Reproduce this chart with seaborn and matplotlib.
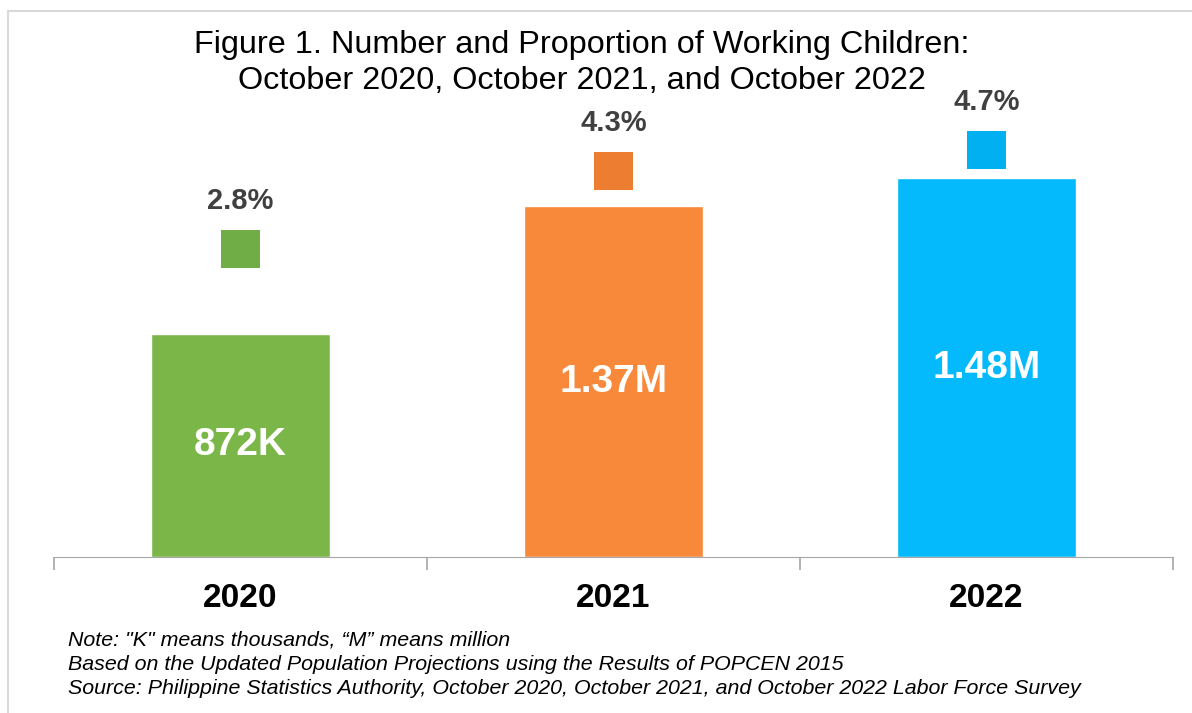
import numpy as np
import pandas as pd
import matplotlib
matplotlib.use("Agg")
import matplotlib.pyplot as plt
import seaborn as sns

years = ["2020", "2021", "2022"]
workers_k = [872, 1370, 1480]
worker_labels = ["872K", "1.37M", "1.48M"]
proportion = [2.8, 4.3, 4.7]

bar_colors = ["#7AB648", "#F8883A", "#04BAFC"]
marker_colors = ["#70AD47", "#ED7D31", "#00B0F0"]

sns.set_style("white")
plt.rcParams["font.family"] = ["Liberation Sans", "DejaVu Sans"]
plt.rcParams["text.color"] = "black"
plt.rcParams["xtick.color"] = "black"

df = pd.DataFrame({"Year": years, "Workers": workers_k, "Pct": proportion})
df["pos"] = np.arange(len(df))

fig = plt.figure(figsize=(11.92, 7.13), dpi=100)
ax = fig.add_axes([54 / 1192, 1 - 557 / 713, 1119 / 1192, 457 / 713])

sns.barplot(data=df, x="Year", y="Workers", hue="Year", palette=bar_colors,
            width=0.48, saturation=1, legend=False, ax=ax)
ax.set_ylim(0, 1785)
ax.set_xlim(-0.5, 2.5)

for i, (v, lab) in enumerate(zip(workers_k, worker_labels)):
    ax.text(i, v / 2, lab, ha="center", va="center", color="white",
            fontsize=28, fontweight="bold")

ax2 = ax.twinx()
sns.scatterplot(data=df, x="pos", y="Pct", hue="Year", palette=marker_colors,
                marker="s", s=750, linewidth=0, legend=False, ax=ax2, zorder=3)
ax2.set_ylim(-3.12, 5.67)
for i, p in enumerate(proportion):
    ax2.annotate(f"{p}%", (i, p), xytext=(0, 35), textcoords="offset points",
                 ha="center", va="center", fontsize=21, fontweight="bold",
                 color="#404040")

for a in (ax, ax2):
    for s in ["top", "right", "left"]:
        a.spines[s].set_visible(False)
    a.set_ylabel("")
    a.set_xlabel("")
ax.spines["bottom"].set_color("#A6A6A6")
ax2.spines["bottom"].set_visible(False)
ax.set_yticks([])
ax2.set_yticks([])

ax.set_xticks(range(len(years)))
ax.set_xticklabels(years, fontsize=24, fontweight="bold", color="black")
ax.set_xticks(np.arange(-0.5, len(years), 1), minor=True)
ax.tick_params(axis="x", which="major", bottom=False, length=0, pad=19)
ax.tick_params(axis="x", which="minor", bottom=True, length=9,
               color="#A6A6A6", width=1.2, direction="out")

fig.text(582 / 1192, 1 - 63 / 713,
         "Figure 1. Number and Proportion of Working Children:\nOctober 2020, October 2021, and October 2022",
         ha="center", va="center", fontsize=23.3, linespacing=1.27, color="black")

notes = ['Note: "K" means thousands, \u201cM\u201d means million',
         "Based on the Updated Population Projections using the Results of POPCEN 2015",
         "Source: Philippine Statistics Authority, October 2020, October 2021, and October 2022 Labor Force Survey"]
for k, line in enumerate(notes):
    fig.text(68 / 1192, 1 - (640 + 24.5 * k) / 713, line, ha="left", va="center",
             fontsize=15.4, style="italic", color="black")

# light frame at left and top
fig.add_artist(plt.Line2D([8 / 1192, 8 / 1192], [0, 1 - 11 / 713], color="#D9D9D9", lw=1.5))
fig.add_artist(plt.Line2D([8 / 1192, 1], [1 - 11 / 713, 1 - 11 / 713], color="#D9D9D9", lw=1.5))

fig.savefig("out.png", dpi=100)
